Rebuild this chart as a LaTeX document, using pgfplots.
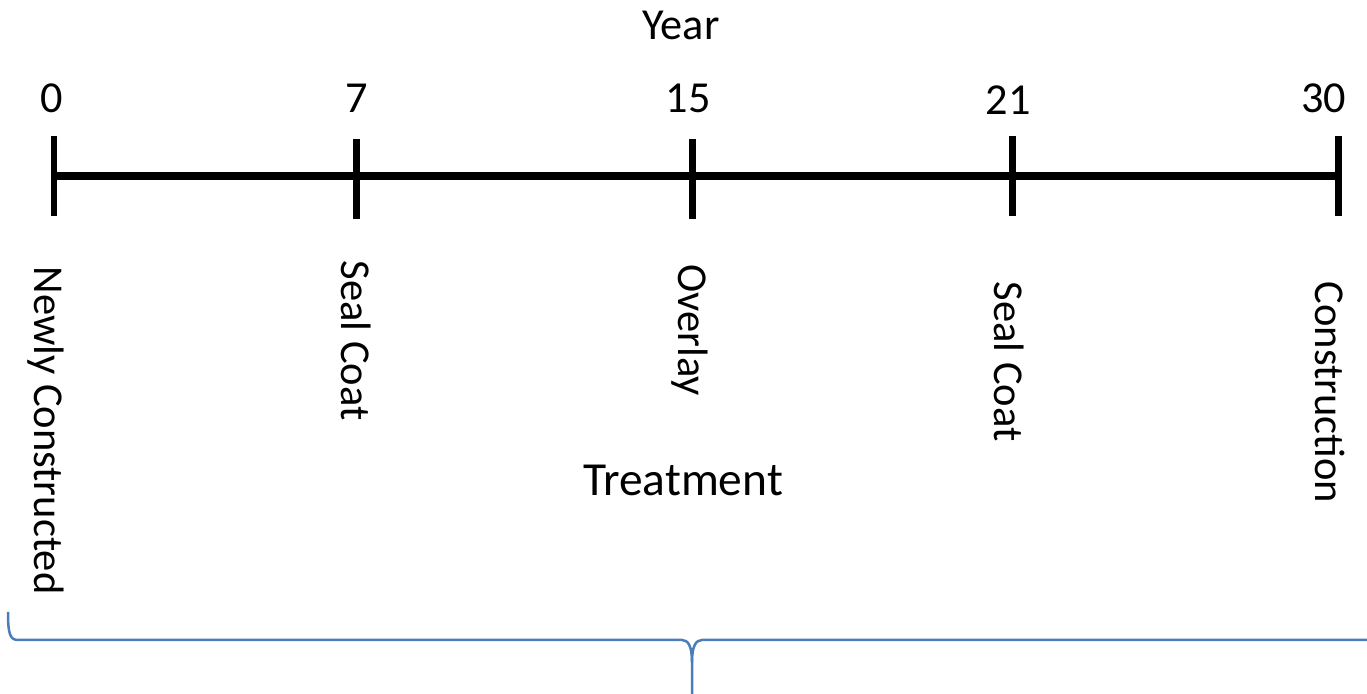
\documentclass[border=0pt]{standalone}
\usepackage{pgfplots}
\pgfplotsset{compat=1.18}
\usepackage{fontspec}
\setmainfont{Carlito}
\definecolor{bracecol}{RGB}{74,126,187}
\newcommand\numfont{\fontsize{12.6pt}{15pt}\selectfont}
\newcommand\rotfont{\fontsize{12.1pt}{15pt}\selectfont}
\newcommand\bigfont{\fontsize{13.5pt}{16pt}\selectfont}
\begin{document}
\begin{tikzpicture}
\useasboundingbox (0,0) rectangle (136.7mm,69.4mm);
\begin{axis}[at={(0,0)}, anchor=south west,
  width=136.7mm, height=69.4mm, scale only axis, hide axis,
  xmin=0, xmax=1367, ymin=0, ymax=694, y dir=reverse, clip=false]
% main timeline
\addplot[black, line width=0.8mm, line cap=butt] coordinates {(54,176) (1338.5,176)};
% tick marks at the five treatment years (0, 7, 15, 21, 30)
\addplot[black, line width=0.67mm] coordinates {(54,136) (54,216)};
\addplot[black, line width=0.67mm] coordinates {(356.7,139) (356.7,219)};
\addplot[black, line width=0.67mm] coordinates {(692.5,139) (692.5,219)};
\addplot[black, line width=0.67mm] coordinates {(1012.5,136) (1012.5,216)};
\addplot[black, line width=0.67mm] coordinates {(1338.5,136) (1338.5,216)};
% year labels
\node[font=\numfont, anchor=base, inner sep=0] at (axis cs:681,40) {Year};
\node[font=\numfont, anchor=base, inner sep=0] at (axis cs:52,113) {0};
\node[font=\numfont, anchor=base, inner sep=0] at (axis cs:357,113) {7};
\node[font=\numfont, anchor=base, inner sep=0] at (axis cs:688,113) {15};
\node[font=\numfont, anchor=base, inner sep=0] at (axis cs:1008,115) {21};
\node[font=\numfont, anchor=base, inner sep=0] at (axis cs:1323.5,113) {30};
% treatment labels
\node[font=\rotfont, rotate=-90, anchor=base west, inner sep=0] at (axis cs:35,266) {Newly Constructed};
\node[font=\rotfont, rotate=-90, anchor=base west, inner sep=0] at (axis cs:342,260) {Seal Coat};
\node[font=\rotfont, rotate=-90, anchor=base west, inner sep=0] at (axis cs:678,264) {Overlay};
\node[font=\rotfont, rotate=-90, anchor=base west, inner sep=0] at (axis cs:995,281) {Seal Coat};
\node[font=\rotfont, rotate=-90, anchor=base west, inner sep=0] at (axis cs:1316,281) {Construction};
\node[font=\bigfont, anchor=base, inner sep=0] at (axis cs:683,496) {Treatment};
% brace
\draw[bracecol, line width=0.25mm]
  (axis cs:8,612) .. controls (axis cs:8,634) and (axis cs:10,640) .. (axis cs:18,640)
  -- (axis cs:682,640) .. controls (axis cs:688,640) and (axis cs:692,646) .. (axis cs:692,662)
  -- (axis cs:692,694);
\draw[bracecol, line width=0.25mm]
  (axis cs:692,662) .. controls (axis cs:692,646) and (axis cs:696,640) .. (axis cs:702,640)
  -- (axis cs:1367,640);
\end{axis}
\end{tikzpicture}
\end{document}
